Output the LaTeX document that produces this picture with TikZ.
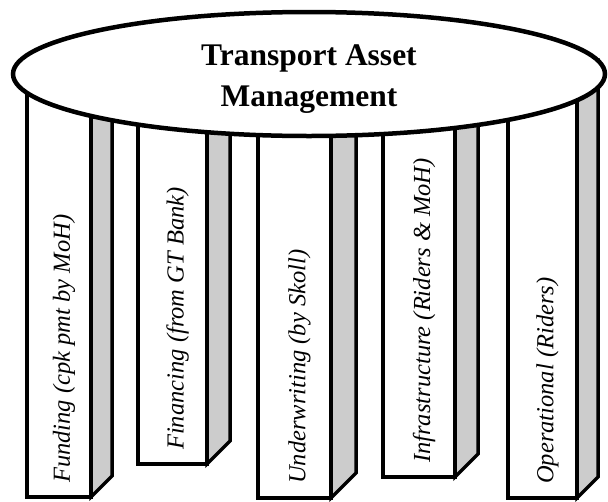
\documentclass[tikz,border=0pt]{standalone}
\usepackage{fontspec}
\setmainfont{Liberation Serif}
\usetikzlibrary{shapes.geometric}
\definecolor{sidegrey}{RGB}{204,204,204}
\tikzset{
  edge/.style={draw=black,line width=3.5pt,line join=miter},
  platform/.style={ellipse,draw=black,fill=white,line width=4.5pt,inner sep=0pt,
    minimum width=592pt,minimum height=124pt},
  titletext/.style={align=center,font=\bfseries\fontsize{31.5}{41}\selectfont},
  pillartext/.style={rotate=90,anchor=west,inner sep=0pt,
    font=\itshape\fontsize{24.5}{28}\selectfont}
}
\begin{document}
\begin{tikzpicture}[x=1pt,y=-1pt]
      \useasboundingbox (0,0) rectangle (608,501);
      \def\top{60};
      % pillars: left / front right / side right / bottom / label
      \foreach \l/\r/\s/\b/\txt [count=\i] in {
          27/91/112/497/{Funding (cpk pmt by MoH)},
          138/207/230/464/{Financing (from GT Bank)},
          258/331/356/498/{Underwriting (by Skoll)},
          383/455/478/477/{Infrastructure (Riders \& MoH)},
          508/577/598/498/{Operational (Riders)}}{
        \draw[edge,fill=sidegrey] (\r,\top) -- (\s,\top) -- (\s,\b-\s+\r) -- (\r,\b) -- cycle;
        \draw[edge,fill=white] (\l,\top) rectangle (\r,\b);
        \node[pillartext] (p\i) at ({(\l+\r)/2+5},\b-14) {\txt};
      }
      \node[platform] (tam) at (309,74) {};
      \node[titletext] (title) at (309,79) {Transport Asset\\Management};
    \end{tikzpicture}
\end{document}
